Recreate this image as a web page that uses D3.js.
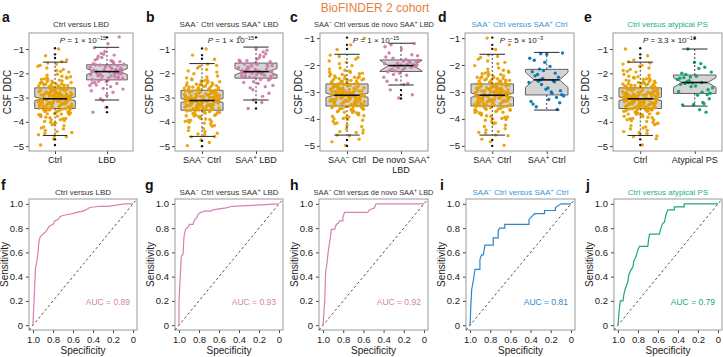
<!DOCTYPE html>
<html>
<head>
<meta charset="utf-8">
<script src="https://cdn.jsdelivr.net/npm/d3@7"></script>
<style>
  body { margin: 0; background: #fff; }
  svg { display: block; font-family: "Liberation Sans", Arial, sans-serif; }
</style>
</head>
<body>
<svg id="chart" width="723" height="357"></svg>
<script>
// ---- data ----
var ctrlDDC = [
  -3.12,-2.85,-3.41,-2.67,-3.02,-3.78,-2.31,-3.25,-2.94,-3.56,
  -2.48,-3.09,-4.12,-2.76,-3.33,-2.19,-3.61,-2.88,-3.15,-1.84,
  -3.47,-2.62,-3.01,-4.35,-2.95,-3.22,-2.41,-3.68,-2.83,-3.07,
  -1.62,-3.38,-2.71,-3.92,-3.18,-2.54,-3.29,-2.99,-4.58,-2.36,
  -3.05,-3.51,-2.79,-3.14,-2.23,-3.86,-2.91,-3.44,-2.66,-3.27,
  -1.95,-3.63,-3.08,-2.58,-4.02,-2.87,-3.36,-2.45,-3.19,-2.74,
  -3.72,-2.12,-3.03,-3.49,-2.81,-4.21,-2.97,-3.31,-2.52,-3.11,
  -1.78,-3.58,-2.69,-3.24,-2.93,-3.83,-2.38,-3.16,-4.47,-2.84,
  -3.42,-2.61,-3.06,-2.27,-3.69,-2.98,-3.35,-2.49,-3.21,-1.71,
  -3.54,-2.77,-3.13,-4.08,-2.89,-3.28,-2.56,-3.64,-2.04,-3.0,
  -3.46,-2.72,-3.17,-3.91,-2.34,-3.39,-2.82,-3.1,-4.29,-2.64,
  -3.26,-2.9,-3.57,-2.16,-3.04,-3.75,-2.43,-3.2,-2.96,-1.88,
  -3.5,-2.68,-3.34,-4.53,-2.8,-3.09,-2.5,-3.66,-2.25,-3.23,
  -2.92,-3.43,-2.6,-3.98,-3.15,-2.39,-3.3,-2.86,-1.58,-3.6,
  -2.75,-3.02,-4.16,-2.47,-3.37,-2.99,-3.81,-2.2,-3.12,-2.7,
  -3.48,-2.57,-3.07,-4.4,-2.88,-3.27,-2.33,-3.71,-2.94,-2.08,
  -3.4,-2.63,-3.19,-3.87,-2.78,-3.32,-2.52,-3.55,-4.61,-2.97,
  -1.67,-3.25,-2.84,-3.62,-2.44,-3.06,-3.95,-2.73,-3.14,-2.28,
  -3.52,-2.9,-3.0,-4.25,-2.66,-3.45,-2.14,-3.77,-2.85,-3.18,
  -2.55,-3.33,-1.92,-3.67,-2.99,-4.05,-2.4,-3.22,-2.81,-4.44,
  -1.0,-1.28,-1.45,-4.7,-4.95,-1.52
];
var saaNegCtrlDDC = [
  -3.2,-2.9,-3.48,-2.74,-3.1,-3.85,-2.4,-3.33,-3.0,-3.62,
  -2.55,-3.17,-4.18,-2.83,-3.4,-2.26,-3.68,-2.95,-3.22,-1.9,
  -3.53,-2.7,-3.08,-4.41,-3.02,-3.29,-2.48,-3.75,-2.9,-3.14,
  -1.68,-3.45,-2.78,-3.99,-3.25,-2.61,-3.36,-3.06,-4.6,-2.43,
  -3.12,-3.58,-2.86,-3.21,-2.3,-3.93,-2.98,-3.51,-2.73,-3.34,
  -2.02,-3.7,-3.15,-2.65,-4.09,-2.94,-3.43,-2.52,-3.26,-2.81,
  -3.79,-2.19,-3.1,-3.56,-2.88,-4.28,-3.04,-3.38,-2.59,-3.18,
  -1.85,-3.65,-2.76,-3.31,-3.0,-3.9,-2.45,-3.23,-4.52,-2.91,
  -3.49,-2.68,-3.13,-2.34,-3.76,-3.05,-3.42,-2.56,-3.28,-1.78,
  -3.61,-2.84,-3.2,-4.15,-2.96,-3.35,-2.63,-3.71,-2.11,-3.07,
  -3.53,-2.79,-3.24,-3.98,-2.41,-3.46,-2.89,-3.17,-4.36,-2.71,
  -3.33,-2.97,-3.64,-2.23,-3.11,-3.82,-2.5,-3.27,-3.03,-1.95,
  -3.57,-2.75,-3.41,-4.5,-2.87,-3.16,-2.57,-3.73,-2.32,-3.3,
  -2.99,-3.5,-2.67,-4.05,-3.22,-2.46,-3.37,-2.93,-1.63,-3.67,
  -2.82,-3.09,-4.23,-2.54,-3.44,-3.06,-3.88,-2.27,-3.19,-2.77,
  -3.55,-2.64,-3.14,-4.47,-2.95,-3.34,-2.4,-3.78,-3.01,-2.15,
  -3.47,-2.7,-3.26,-3.94,-2.85,-3.39,-2.59,-3.62,-4.62,-3.04,
  -1.72,-3.32,-2.91,-3.69,-2.51,-3.13,-4.02,-2.8,-3.21,-2.35,
  -1.0,-1.25,-1.42,-4.75,-4.98,-4.85
];
var lbdDDC = [
  -1.92,-2.15,-1.7,-2.4,-1.55,-2.05,-1.82,-2.28,-1.45,-1.98,
  -2.62,-1.75,-2.1,-1.3,-1.88,-2.35,-1.6,-2.02,-1.18,-2.2,
  -1.95,-2.48,-1.68,-1.85,-2.72,-1.5,-2.08,-1.78,-2.3,-0.95,
  -1.9,-2.12,-1.62,-2.55,-1.4,-2.0,-1.73,-2.25,-1.58,-3.05,
  -1.96,-2.18,-1.65,-2.42,-1.22,-2.06,-1.8,-2.33,-1.52,-2.9,
  -1.87,-2.14,-1.35,-2.65,-1.72,-1.99,-2.22,-1.1,-1.93,-2.78,
  -1.66,-2.03,-0.78,-2.38,-1.84,-3.12,-2.5,-1.48,-2.1,-0.5,
  -3.4,-3.6,-1.25,-2.25
];
var saaPosLbdDDC = [
  -1.9,-2.1,-1.65,-2.35,-1.5,-2.0,-1.78,-2.2,-1.42,-1.95,
  -2.55,-1.7,-2.05,-1.25,-1.85,-2.28,-1.58,-1.98,-1.12,-2.15,
  -1.92,-2.42,-1.62,-1.82,-2.68,-1.46,-2.02,-1.74,-2.24,-0.98,
  -1.88,-2.08,-1.6,-2.5,-1.36,-1.97,-1.7,-2.18,-1.55,-2.95,
  -1.94,-2.12,-1.63,-2.38,-1.2,-2.0,-1.77,-2.26,-1.48,-2.82,
  -1.84,-2.1,-1.32,-2.6,-1.68,-1.96,-2.16,-1.05,-3.1,-0.52,
  -3.2,-3.45,-1.52,-2.06
];
var deNovoLbdDDC = [
  -2.0,-1.85,-2.2,-1.62,-2.1,-1.95,-2.38,-1.75,-2.05,-1.4,
  -2.25,-1.9,-2.55,-1.82,-2.12,-1.25,-1.98,-2.3,-1.7,-2.68,
  -2.03,-1.88,-2.18,-1.55,-2.08,-1.93,-2.45,-1.78,-2.15,-1.2,
  -2.0,-2.6,-1.86,-2.22,-1.65,-2.72,-2.92,-3.1,-3.22,-1.32,
  -1.98,-2.35
];
var saaPosCtrlDDC = [
  -2.55,-1.55,-3.28,-2.4,-3.65,-2.2,-1.75,-3.05,-2.6,-2.95,
  -1.6,-3.45,-2.3,-2.72,-3.15,-2.05,-3.55,-2.45,-1.9,-3.35,
  -2.58,-2.15,-3.1,-2.85,-1.82,-3.2,-2.5,-2.65,-3.0,-2.35,
  -3.4,-2.9,-2.25,-2.62,-1.58
];
var atypicalPsDDC = [
  -2.38,-1.0,-2.82,-2.12,-3.3,-1.75,-2.55,-2.25,-3.5,-2.05,
  -2.68,-1.55,-2.45,-3.2,-2.3,-1.95,-2.9,-2.18,-3.6,-2.4,
  -2.75,-1.6,-2.35,-3.05,-2.52,-2.0,-3.25,-2.15,-2.6,-1.8,
  -2.42,-2.88,-3.28,-2.2,-2.78,-2.38
];

// box summaries: lower whisker, Q1, median, Q3, upper whisker
var ctrlBox = [-4.56, -3.45, -3.05, -2.6, -1.54];
var lbdBox = [-3.1, -2.27, -1.93, -1.65, -0.93];
var saaNegCtrlBox = [-4.6, -3.52, -3.12, -2.7, -1.6];
var saaPosLbdBox = [-3.1, -2.2, -1.93, -1.58, -0.92];
var deNovoLbdBox = [-2.74, -2.24, -2.02, -1.81, -1.19];
var saaPosCtrlBox = [-3.67, -3.11, -2.55, -2.16, -1.53];
var atypicalPsBox = [-3.35, -2.83, -2.38, -2.07, -1.0];

// notch half-heights
var notchHalf = [0.075, 0.12, 0.08, 0.13, 0.2, 0.28, 0.2]; // ctrl, lbd, saaNegCtrl, saaPosLbd, deNovo, saaPosCtrl, atypical

// outliers (black dots)
var ctrlOut = [-0.97, -1.22, -1.37, -4.72, -4.95];
var lbdOut = [-0.52, -3.4, -3.6];
var saaNegCtrlOut = [-0.98, -1.25, -1.4, -4.78, -5.0];
var saaPosLbdOut = [-0.52, -3.2, -3.45];
var deNovoLbdOut = [-2.93, -3.11, -3.24];
var saaPosCtrlOut = [];
var atypicalPsOut = [-0.55];

var pMantissa = ["1", "1", "1", "5", "3.3"];
var pExponent = ["−15", "−15", "−15", "−3", "−10"];

var boxTicks = [-1, -2, -3, -4, -5];
var rocTicks = [0, 0.2, 0.4, 0.6, 0.8, 1.0];

// ROC vertices: [specificity, sensitivity]
var rocCtrlLbd = [[1,0],[1,0.02],[0.99,0.19],[0.975,0.47],[0.96,0.53],[0.95,0.6],[0.94,0.69],[0.927,0.73],[0.9,0.75],[0.873,0.77],[0.85,0.8],[0.833,0.82],[0.8,0.83],[0.783,0.86],[0.75,0.87],[0.733,0.89],[0.717,0.9],[0.667,0.91],[0.6,0.92],[0.567,0.93],[0.5,0.94],[0.45,0.96],[0.433,0.97],[0.333,0.98],[0.25,0.98],[0.167,0.99],[0.08,1],[0,1]];
var rocSaaLbd = [[1,0],[1,0.19],[0.987,0.41],[0.977,0.57],[0.96,0.58],[0.95,0.73],[0.934,0.79],[0.91,0.81],[0.894,0.83],[0.86,0.83],[0.844,0.87],[0.828,0.88],[0.81,0.91],[0.795,0.925],[0.745,0.94],[0.68,0.94],[0.662,0.95],[0.53,0.967],[0.464,0.98],[0.232,0.99],[0,1]];
var rocDeNovo = [[1,0],[0.984,0.19],[0.974,0.44],[0.961,0.51],[0.951,0.59],[0.941,0.65],[0.928,0.72],[0.918,0.79],[0.885,0.79],[0.869,0.83],[0.85,0.84],[0.836,0.86],[0.803,0.86],[0.803,0.89],[0.787,0.93],[0.557,0.93],[0.541,0.95],[0.492,0.965],[0.475,1],[0,1]];
var rocSaaCtrl = [[1,0],[0.993,0.14],[0.984,0.29],[0.967,0.37],[0.951,0.46],[0.902,0.46],[0.902,0.54],[0.885,0.58],[0.869,0.58],[0.862,0.61],[0.852,0.66],[0.77,0.66],[0.77,0.72],[0.721,0.72],[0.721,0.78],[0.705,0.8],[0.656,0.8],[0.656,0.83],[0.416,0.83],[0.416,0.87],[0.361,0.92],[0.262,0.92],[0.262,0.945],[0.154,0.945],[0.154,0.97],[0.098,1],[0,1]];
var rocAtypical = [[1,0],[0.99,0.11],[0.977,0.2],[0.95,0.2],[0.94,0.26],[0.927,0.3],[0.9,0.36],[0.894,0.41],[0.874,0.45],[0.851,0.48],[0.841,0.53],[0.818,0.57],[0.801,0.62],[0.785,0.65],[0.702,0.65],[0.695,0.7],[0.685,0.75],[0.586,0.75],[0.57,0.8],[0.553,0.84],[0.536,0.85],[0.52,0.91],[0.503,0.95],[0.437,0.95],[0.437,0.975],[0.338,0.975],[0.338,1],[0,1]];
var aucValues = [0.89, 0.93, 0.92, 0.81, 0.79];

// ---- colours ----
var orange = "#e69f00", pink = "#cc79a7", blue = "#0072b2", green = "#009e73";
var pinkLine = "#d77fb4", blueLine = "#2f86c9", greenLine = "#1aa97b";
var blueText = "#3994d4", greenText = "#22b183", darkText = "#333";

var svg = d3.select("#chart");

// text with {superscript} and *italic* pieces
function richText(text, str, supDy) {
    var shift = 0;
    str.split(/(\{[^}]*\}|\*[^*]*\*)/).filter(function(s) { return s.length; }).forEach(function(s) {
        var t = text.append("tspan");
        if (s[0] === "{") {
            t.text(s.slice(1, -1)).attr("dy", -supDy).attr("font-size", "70%");
            shift = supDy;
        } else {
            if (s[0] === "*") {
                t.style("font-style", "italic");
                s = s.slice(1, -1);
            }
            t.text(s);
            if (shift) {
                t.attr("dy", shift);
                shift = 0;
            }
        }
    });
    return text;
}

function styleAxis(a) {
    a.select(".domain").remove();
    a.attr("font-family", null).attr("font-size", 9.5).attr("color", "#222");
    a.selectAll("line").attr("stroke", "#444");
}

// frac of golden-ratio sequence for a repeatable jitter
function jitter(i, seed) {
    var v = i * 0.6180339887 + seed;
    return v - Math.floor(v) - 0.5;
}

var group = function(label, values, box, notch, outliers, color) {
    return { label: label, values: values, box: box, notch: notch, outliers: outliers, color: color };
};

var boxPanels = [
    { letter: "a", letterX: 2, title: "Ctrl versus LBD", titleColor: darkText, left: 29, right: 133, yDomain: [-5.2, -0.34], yLabelGap: 18,
      groups: [group("Ctrl", ctrlDDC, ctrlBox, notchHalf[0], ctrlOut, orange),
               group("LBD", lbdDDC, lbdBox, notchHalf[1], lbdOut, pink)] },
    { letter: "b", letterX: 146, title: "SAA{−} Ctrl versus SAA{+} LBD", titleColor: darkText, left: 175, right: 283, yDomain: [-5.2, -0.34], yLabelGap: 22,
      groups: [group("SAA{−} Ctrl", saaNegCtrlDDC, saaNegCtrlBox, notchHalf[2], saaNegCtrlOut, orange),
               group("SAA{+} LBD", saaPosLbdDDC, saaPosLbdBox, notchHalf[3], saaPosLbdOut, pink)] },
    { letter: "c", letterX: 290, title: "SAA{−} Ctrl versus de novo SAA{+} LBD", titleColor: darkText, left: 320, right: 428, yDomain: [-5.19, -0.81], yLabelGap: 18,
      groups: [group("SAA{−} Ctrl", saaNegCtrlDDC, saaNegCtrlBox, notchHalf[2], saaNegCtrlOut, orange),
               group("De novo SAA{+}\nLBD", deNovoLbdDDC, deNovoLbdBox, notchHalf[4], deNovoLbdOut, pink)] },
    { letter: "d", letterX: 438, title: "SAA{−} Ctrl versus SAA{+} Ctrl", titleColor: blueText, left: 465, right: 574, yDomain: [-5.19, -0.81], yLabelGap: 20,
      groups: [group("SAA{−} Ctrl", saaNegCtrlDDC, saaNegCtrlBox, notchHalf[2], saaNegCtrlOut, orange),
               group("SAA{+} Ctrl", saaPosCtrlDDC, saaPosCtrlBox, notchHalf[5], saaPosCtrlOut, blue)] },
    { letter: "e", letterX: 584, title: "Ctrl versus atypical PS", titleColor: greenText, left: 613, right: 722, yDomain: [-5.2, -0.34], yLabelGap: 24,
      groups: [group("Ctrl", ctrlDDC, ctrlBox, notchHalf[0], ctrlOut, orange),
               group("Atypical PS", atypicalPsDDC, atypicalPsBox, notchHalf[6], atypicalPsOut, green)] }
];

var rocPanels = [
    { letter: "f", letterX: 1, title: "Ctrl versus LBD", titleColor: darkText, left: 29, right: 137, roc: rocCtrlLbd, color: pinkLine },
    { letter: "g", letterX: 145, title: "SAA{−} Ctrl versus SAA{+} LBD", titleColor: darkText, left: 175, right: 283, roc: rocSaaLbd, color: pinkLine },
    { letter: "h", letterX: 290, title: "SAA{−} Ctrl versus de novo SAA{+} LBD", titleColor: darkText, left: 319, right: 428, roc: rocDeNovo, color: pinkLine },
    { letter: "i", letterX: 440, title: "SAA{−} Ctrl versus SAA{+} Ctrl", titleColor: blueText, left: 466, right: 575, roc: rocSaaCtrl, color: blueLine },
    { letter: "j", letterX: 586, title: "Ctrl versus atypical PS", titleColor: greenText, left: 614, right: 722, roc: rocAtypical, color: greenLine }
];

// Overall title
svg.append("text")
    .attr("x", 375).attr("y", 12)
    .attr("text-anchor", "middle")
    .attr("font-size", 12)
    .attr("fill", "#e8813d")
    .text("BioFINDER 2 cohort");

// ---- box plot panels ----
var boxTop = 33, boxBottom = 151;

boxPanels.forEach(function(p, pi) {
    var g = svg.append("g");
    var x = d3.scalePoint().domain(p.groups.map(function(d) { return d.label; }))
        .range([p.left, p.right]).padding(0.5);
    var y = d3.scaleLinear().domain(p.yDomain).range([boxBottom, boxTop]);
    var hw = x.step() * 0.39, indent = hw * 0.4, cap = hw * 0.6, jw = x.step() * 0.33;
    var titleSize = p.title.length > 30 ? 7.4 : 8;

    g.append("text").attr("x", p.letterX).attr("y", 22)
        .attr("font-size", 14).attr("font-weight", 900).attr("fill", "#111").text(p.letter);

    richText(g.append("text").attr("x", (p.left + p.right) / 2).attr("y", 27)
        .attr("text-anchor", "middle").attr("font-size", titleSize).attr("fill", p.titleColor), p.title, 3);

    g.append("g").attr("transform", "translate(" + p.left + ",0)")
        .call(d3.axisLeft(y).tickValues(boxTicks).tickSize(3).tickPadding(2).tickFormat(d3.format("d")))
        .call(styleAxis);

    g.append("g").attr("transform", "translate(0," + boxBottom + ")")
        .call(d3.axisBottom(x).tickSize(3).tickFormat(""))
        .call(styleAxis);

    // category labels (may carry superscripts / two lines)
    p.groups.forEach(function(d) {
        d.label.split("\n").forEach(function(line, li) {
            richText(g.append("text").attr("x", x(d.label)).attr("y", 163 + li * 10)
                .attr("text-anchor", "middle").attr("font-size", 9).attr("fill", "#222"), line, 3);
        });
    });

    g.append("text")
        .attr("transform", "translate(" + (p.left - p.yLabelGap) + "," + (boxTop + boxBottom) / 2 + ") rotate(-90)")
        .attr("text-anchor", "middle").attr("font-size", 10).attr("fill", "#222")
        .text("CSF DDC");

    g.append("rect").attr("x", p.left).attr("y", boxTop)
        .attr("width", p.right - p.left).attr("height", boxBottom - boxTop)
        .attr("fill", "none").attr("stroke", "#9a9a9a").attr("stroke-width", 1);

    p.groups.forEach(function(d, gi) {
        var cx = x(d.label), b = d.box, n = d.notch;
        var poly = [
            [cx - hw, y(b[3])], [cx - hw, y(b[2] + n)], [cx - hw + indent, y(b[2])], [cx - hw, y(b[2] - n)], [cx - hw, y(b[1])],
            [cx + hw, y(b[1])], [cx + hw, y(b[2] - n)], [cx + hw - indent, y(b[2])], [cx + hw, y(b[2] + n)], [cx + hw, y(b[3])]
        ];
        g.append("path").attr("d", d3.line()(poly) + "Z")
            .attr("fill", "#d4d4d4").attr("stroke", "#555").attr("stroke-width", 0.9);

        g.append("g").selectAll("circle").data(d.values).enter().append("circle")
            .attr("cx", function(v, i) { return cx + jitter(i, pi * 0.37 + gi * 0.21) * 2 * jw; })
            .attr("cy", function(v) { return y(v); })
            .attr("r", 1.7)
            .attr("fill", d.color)
            .attr("fill-opacity", 0.92);

        // whiskers and caps
        [[b[3], b[4]], [b[1], b[0]]].forEach(function(w) {
            g.append("line").attr("x1", cx).attr("x2", cx).attr("y1", y(w[0])).attr("y2", y(w[1]))
                .attr("stroke", "#111").attr("stroke-width", 0.8).attr("stroke-dasharray", "2,2");
            g.append("line").attr("x1", cx - cap).attr("x2", cx + cap).attr("y1", y(w[1])).attr("y2", y(w[1]))
                .attr("stroke", "#111").attr("stroke-width", 0.9);
        });
        g.append("line").attr("x1", cx - hw + indent).attr("x2", cx + hw - indent)
            .attr("y1", y(b[2])).attr("y2", y(b[2]))
            .attr("stroke", "#111").attr("stroke-width", 1.6);

        g.append("g").selectAll("circle").data(d.outliers).enter().append("circle")
            .attr("cx", cx).attr("cy", function(v) { return y(v); })
            .attr("r", 1.2).attr("fill", "#111");
    });

    richText(g.append("text").attr("x", (p.left + p.right) / 2 + 2).attr("y", 43)
        .attr("text-anchor", "middle").attr("font-size", 8).attr("fill", "#222"),
        "*P* = " + pMantissa[pi] + " × 10{" + pExponent[pi] + "}", 3);
});

// ---- ROC panels ----
var rocTop = 199, rocBottom = 330;

rocPanels.forEach(function(p, pi) {
    var g = svg.append("g");
    var x = d3.scaleLinear().domain([1.04, -0.04]).range([p.left, p.right]);
    var y = d3.scaleLinear().domain([-0.04, 1.04]).range([rocBottom, rocTop]);
    var fmt = function(d) { return d === 0 ? "0" : d3.format(".1f")(d); };
    var titleSize = p.title.length > 30 ? 7.4 : 8;

    g.append("text").attr("x", p.letterX).attr("y", 190)
        .attr("font-size", 14).attr("font-weight", 900).attr("fill", "#111").text(p.letter);

    richText(g.append("text").attr("x", (p.left + p.right) / 2).attr("y", 195)
        .attr("text-anchor", "middle").attr("font-size", titleSize).attr("fill", p.titleColor), p.title, 3);

    g.append("g").attr("transform", "translate(" + p.left + ",0)")
        .call(d3.axisLeft(y).tickValues(rocTicks).tickSize(3).tickPadding(3).tickFormat(fmt))
        .call(styleAxis);
    g.append("g").attr("transform", "translate(0," + rocBottom + ")")
        .call(d3.axisBottom(x).tickValues(rocTicks).tickSize(3).tickPadding(3).tickFormat(fmt))
        .call(styleAxis);

    g.append("text")
        .attr("transform", "translate(" + (p.left - 21) + "," + (rocTop + rocBottom) / 2 + ") rotate(-90)")
        .attr("text-anchor", "middle").attr("font-size", 10).attr("fill", "#222")
        .text("Sensitivity");
    g.append("text")
        .attr("x", (p.left + p.right) / 2).attr("y", 354)
        .attr("text-anchor", "middle").attr("font-size", 10).attr("fill", "#222")
        .text("Specificity");

    g.append("rect").attr("x", p.left).attr("y", rocTop)
        .attr("width", p.right - p.left).attr("height", rocBottom - rocTop)
        .attr("fill", "none").attr("stroke", "#9a9a9a").attr("stroke-width", 1);

    // chance line
    g.append("line")
        .attr("x1", x(1.04)).attr("y1", y(-0.04)).attr("x2", x(-0.04)).attr("y2", y(1.04))
        .attr("stroke", "#222").attr("stroke-width", 0.8).attr("stroke-dasharray", "2.5,2.5");

    g.append("path").datum(p.roc)
        .attr("d", d3.line().x(function(d) { return x(d[0]); }).y(function(d) { return y(d[1]); }))
        .attr("fill", "none").attr("stroke", p.color).attr("stroke-width", 1.2);

    g.append("text").attr("x", x(0.03)).attr("y", y(0.165))
        .attr("text-anchor", "end").attr("font-size", 8.5).attr("fill", p.color)
        .text("AUC = " + aucValues[pi]);
});
</script>
</body>
</html>
